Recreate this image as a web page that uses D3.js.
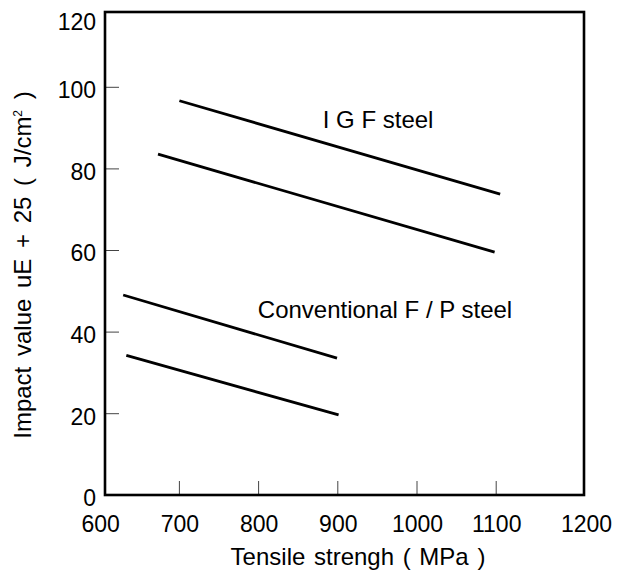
<!DOCTYPE html>
<html>
<head>
<meta charset="utf-8">
<script src="https://cdn.jsdelivr.net/npm/d3@7"></script>
<style>
  body { margin: 0; background: #fff; }
  text { font-family: "Liberation Sans", Arial, sans-serif; fill: #000; }
</style>
</head>
<body>
<div id="chart"></div>
<script>
// Tensile strength (MPa) vs impact value, two steel families
var xTicks = [600, 700, 800, 900, 1000, 1100, 1200];
var yTicks = [0, 20, 40, 60, 80, 100, 120];

var igfUpper = [[700, 96.7], [1105, 73.8]];
var igfLower = [[673, 83.6], [1098, 59.6]];
var convUpper = [[629, 49.1], [899, 33.6]];
var convLower = [[633, 34.3], [901, 19.7]];

var seriesLabels = ['I G F steel', 'Conventional F / P steel'];
var labelAt = [[881, 90], [799, 43.5]];

(function() {
  var w = 624, h = 575;

  var svg = d3.select('#chart').append('svg')
    .attr('width', w).attr('height', h);

  // scales follow the tick marks, the frame sits slightly inside them
  var x = d3.scaleLinear().domain([600, 1200]).range([100.2, 575.4]);
  var y = d3.scaleLinear().domain([0, 120]).range([495.3, 5.7]);
  var frame = { left: 105, right: 584, top: 12, bottom: 495 };

  // x axis labels (tick marks drawn inward below)
  var xAxis = d3.axisBottom(x).tickValues(xTicks).tickFormat(d3.format('d'))
    .tickSize(0).tickPadding(0);
  var gx = svg.append('g').attr('transform', 'translate(0,' + frame.bottom + ')').call(xAxis);
  gx.select('.domain').remove();
  gx.selectAll('.tick line').remove();
  gx.selectAll('.tick text').attr('y', 37).attr('dy', null)
    .style('font-size', '23px');
  gx.selectAll('.tick').filter(function(d) { return d === 1200; })
    .select('text').attr('x', frame.right + 2 - x(1200));

  svg.append('g').selectAll('line')
    .data(xTicks.filter(function(d) { return d > 600 && d < 1200; }))
    .join('line')
    .attr('x1', function(d) { return x(d); }).attr('x2', function(d) { return x(d); })
    .attr('y1', frame.bottom).attr('y2', frame.bottom - 14)
    .attr('stroke', '#444').attr('stroke-width', 1);

  var yAxis = d3.axisLeft(y).tickValues(yTicks).tickSize(0).tickPadding(0);
  var gy = svg.append('g').attr('transform', 'translate(96,0)').call(yAxis);
  gy.select('.domain').remove();
  gy.selectAll('.tick line').remove();
  gy.selectAll('.tick text').attr('x', 0).attr('dy', '0.45em')
    .style('font-size', '23px');
  gy.selectAll('.tick').filter(function(d) { return d === 120; })
    .select('text').attr('y', frame.top + 7 - y(120));

  svg.append('g').selectAll('line')
    .data(yTicks.filter(function(d) { return d > 0 && d < 120; }))
    .join('line')
    .attr('x1', frame.left).attr('x2', frame.left + 14)
    .attr('y1', function(d) { return y(d); }).attr('y2', function(d) { return y(d); })
    .attr('stroke', '#444').attr('stroke-width', 1);

  // frame
  svg.append('rect')
    .attr('x', frame.left).attr('y', frame.top)
    .attr('width', frame.right - frame.left)
    .attr('height', frame.bottom - frame.top)
    .attr('fill', 'none').attr('stroke', '#000').attr('stroke-width', 2.6);

  // lines
  var line = d3.line()
    .x(function(d) { return x(d[0]); })
    .y(function(d) { return y(d[1]); });

  svg.append('g').selectAll('path')
    .data([igfUpper, igfLower, convUpper, convLower])
    .join('path')
    .attr('d', line)
    .attr('fill', 'none').attr('stroke', '#000').attr('stroke-width', 2.8);

  // series labels
  svg.append('g').selectAll('text')
    .data(seriesLabels)
    .join('text')
    .attr('x', function(d, i) { return x(labelAt[i][0]); })
    .attr('y', function(d, i) { return y(labelAt[i][1]); })
    .style('font-size', '24px')
    .text(function(d) { return d; });

  // axis titles
  svg.append('text')
    .attr('x', 358).attr('y', 565)
    .attr('text-anchor', 'middle')
    .style('font-size', '24px')
    .style('word-spacing', '2px')
    .text('Tensile strengh ( MPa )');

  var yt = svg.append('text')
    .attr('transform', 'translate(31,265) rotate(-90)')
    .attr('text-anchor', 'middle')
    .style('font-size', '24px')
    .style('word-spacing', '4px');
  yt.append('tspan').text('Impact value uE + 25 ( J/cm');
  yt.append('tspan').attr('dy', -9).style('font-size', '12px').text('2');
  yt.append('tspan').attr('dy', 9).text(' )');
})();
</script>
</body>
</html>
